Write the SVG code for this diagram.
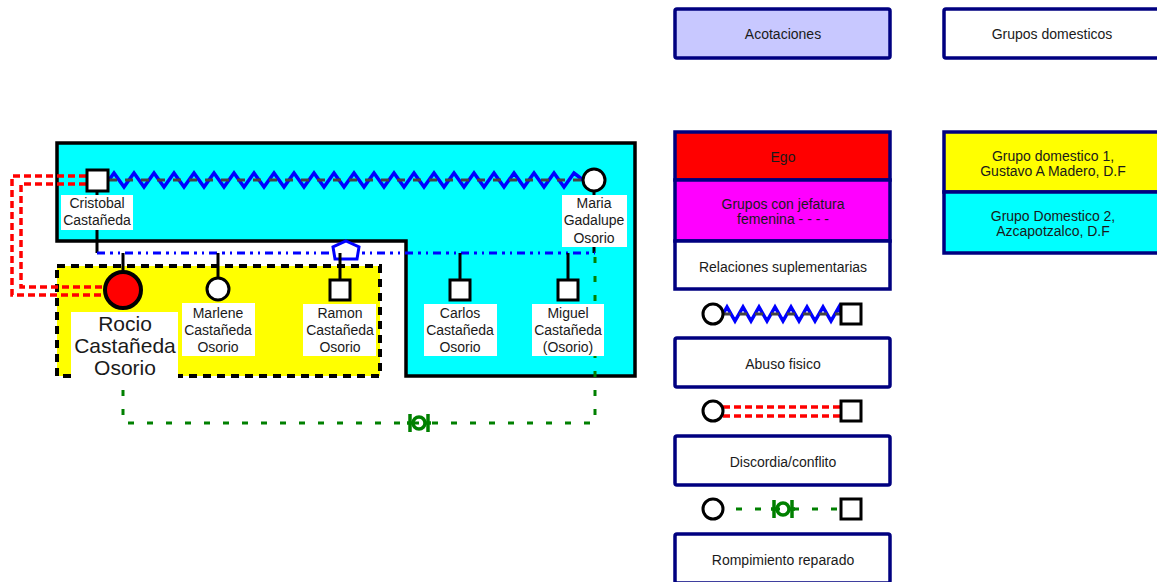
<svg xmlns="http://www.w3.org/2000/svg" width="1157" height="582" viewBox="0 0 1157 582">
<style>
text{font-family:"Liberation Sans",Arial,sans-serif;fill:#1a1a1a;text-anchor:middle}
.lbl{font-size:14px}
.big{font-size:21px}
.lbox{fill:#fff;stroke:none}
.sym{stroke:#000;stroke-width:3;fill:#fff}
.kin{stroke:#000;stroke-width:3;fill:none}
.zig{stroke:#0000ff;stroke-width:3.5;fill:none;stroke-linejoin:miter}
.zigd{stroke:#444;stroke-width:3;fill:none;stroke-dasharray:8 8}
.red{stroke:#ff0000;stroke-width:3.5;fill:none;stroke-dasharray:7 4}
.grn{stroke:#008000;stroke-width:3;fill:none;stroke-dasharray:6 13}
.grs{stroke:#008000;stroke-width:3.5;fill:none}
.leg{stroke:#000080;stroke-width:3.5}
</style>
<defs>
<g id="rep">
<circle cx="0" cy="0" r="6" class="grs"/>
<line x1="-9" y1="-9" x2="-9" y2="9" class="grs"/>
<line x1="9" y1="-9" x2="9" y2="9" class="grs"/>
<line x1="-12" y1="0" x2="-6" y2="0" class="grs"/>
<line x1="6" y1="0" x2="12" y2="0" class="grs"/>
</g>
</defs>

<g id="groups">
<polygon id="grupo2" points="57,143 635,143 635,376 406,376 406,241 57,241" fill="#00ffff" stroke="#000" stroke-width="3.5"/>
<rect id="grupo1" x="57" y="266" width="323" height="110" fill="#ffff00" stroke="#000" stroke-width="4" stroke-dasharray="8 6"/>
</g>

<g id="connectors">
<path class="red" d="M86,176 H12 V295 H106"/>
<path class="red" d="M86,184 H21 V287 H106"/>
<path class="zig" d="M109,180 l5,-7 l10,14 l10,-14 l10,14 l10,-14 l10,14 l10,-14 l10,14 l10,-14 l10,14 l10,-14 l10,14 l10,-14 l10,14 l10,-14 l10,14 l10,-14 l10,14 l10,-14 l10,14 l10,-14 l10,14 l10,-14 l10,14 l10,-14 l10,14 l10,-14 l10,14 l10,-14 l10,14 l10,-14 l10,14 l10,-14 l10,14 l10,-14 l10,14 l10,-14 l10,14 l10,-14 l10,14 l10,-14 l10,14 l10,-14 l10,14 l10,-14 l10,14 l10,-14 l9,7"/>
<line class="zigd" x1="109" y1="180" x2="583" y2="180"/>
<line class="kin" x1="97" y1="191" x2="97" y2="253"/>
<line class="kin" x1="594" y1="191" x2="594" y2="253"/>
<line x1="97" y1="253" x2="595" y2="253" stroke="#0000ff" stroke-width="3" stroke-dasharray="8 5 3 5 2 5"/>
<polygon points="346,241 359,247 357,259 335,259 333,247" fill="#fff" stroke="#0000ff" stroke-width="3"/>
<line class="kin" x1="123" y1="253" x2="123" y2="272"/>
<line class="kin" x1="218" y1="253" x2="218" y2="279"/>
<line class="kin" x1="340" y1="253" x2="340" y2="280"/>
<line class="kin" x1="460" y1="253" x2="460" y2="280"/>
<line class="kin" x1="568" y1="253" x2="568" y2="280"/>
<path class="grn" d="M595,257 V423 H123 V309"/>
<use href="#rep" x="419" y="423"/>
</g>

<g id="cristobal">
<rect class="sym" x="87" y="170" width="21" height="21"/>
<rect class="lbox" x="61" y="195" width="72" height="35"/>
<text class="lbl" x="97" y="208">Cristobal</text>
<text class="lbl" x="97" y="225">Castañeda</text>
</g>

<g id="maria">
<circle class="sym" cx="594" cy="180" r="11"/>
<rect class="lbox" x="562" y="195" width="65" height="52"/>
<text class="lbl" x="594" y="208">Maria</text>
<text class="lbl" x="594" y="225">Gadalupe</text>
<text class="lbl" x="594" y="243">Osorio</text>
</g>

<g id="rocio">
<circle cx="123" cy="290" r="18" fill="#ff0000" stroke="#000" stroke-width="4"/>
<rect class="lbox" x="71" y="312" width="107" height="67"/>
<text class="big" x="125" y="331">Rocio</text>
<text class="big" x="125" y="353">Castañeda</text>
<text class="big" x="125" y="375">Osorio</text>
</g>

<g id="marlene">
<circle class="sym" cx="218" cy="289" r="11"/>
<rect class="lbox" x="182" y="303" width="73" height="53"/>
<text class="lbl" x="218" y="318">Marlene</text>
<text class="lbl" x="218" y="335">Castañeda</text>
<text class="lbl" x="218" y="352">Osorio</text>
</g>

<g id="ramon">
<rect class="sym" x="330" y="280" width="20" height="20"/>
<rect class="lbox" x="303" y="304" width="73" height="52"/>
<text class="lbl" x="340" y="318">Ramon</text>
<text class="lbl" x="340" y="335">Castañeda</text>
<text class="lbl" x="340" y="352">Osorio</text>
</g>

<g id="carlos">
<rect class="sym" x="450" y="280" width="20" height="20"/>
<rect class="lbox" x="424" y="304" width="73" height="52"/>
<text class="lbl" x="460" y="318">Carlos</text>
<text class="lbl" x="460" y="335">Castañeda</text>
<text class="lbl" x="460" y="352">Osorio</text>
</g>

<g id="miguel">
<rect class="sym" x="558" y="280" width="20" height="20"/>
<rect class="lbox" x="532" y="304" width="72" height="52"/>
<text class="lbl" x="568" y="318">Miguel</text>
<text class="lbl" x="568" y="335">Castañeda</text>
<text class="lbl" x="568" y="352">(Osorio)</text>
</g>

<g id="legend-acotaciones">
<rect class="leg" x="675" y="9" width="215" height="49" rx="2" fill="#c8c8ff"/>
<text class="lbl" x="783" y="39">Acotaciones</text>
</g>
<g id="legend-grupos">
<rect class="leg" x="944" y="9" width="216" height="49" rx="2" fill="#fff"/>
<text class="lbl" x="1052" y="39">Grupos domesticos</text>
</g>
<g id="legend-ego">
<rect class="leg" x="675" y="132" width="215" height="48" fill="#ff0000"/>
<text class="lbl" x="783" y="162">Ego</text>
</g>
<g id="legend-jefatura">
<rect class="leg" x="675" y="180" width="215" height="61" fill="#ff00ff"/>
<text class="lbl" x="783" y="209">Grupos con jefatura</text>
<text class="lbl" x="783" y="224">femenina - - - -</text>
</g>
<g id="legend-relaciones">
<rect class="leg" x="675" y="241" width="215" height="48" fill="#fff"/>
<text class="lbl" x="783" y="272">Relaciones suplementarias</text>
</g>
<g id="legend-gd1">
<rect class="leg" x="944" y="132" width="216" height="60" fill="#ffff00"/>
<text class="lbl" x="1053" y="161">Grupo domestico 1,</text>
<text class="lbl" x="1053" y="176">Gustavo A Madero, D.F</text>
</g>
<g id="legend-gd2">
<rect class="leg" x="944" y="192" width="216" height="61" fill="#00ffff"/>
<text class="lbl" x="1053" y="221">Grupo Domestico 2,</text>
<text class="lbl" x="1053" y="236">Azcapotzalco, D.F</text>
</g>

<g id="legend-sym-abuso">
<path class="zig" d="M723,314 l4,-7 l8,14 l8,-14 l8,14 l8,-14 l8,14 l8,-14 l8,14 l8,-14 l8,14 l8,-14 l8,14 l8,-14 l8,14 l8,-14 l2,7"/>
<line class="zigd" x1="723" y1="314" x2="840" y2="314"/>
<circle class="sym" cx="713" cy="314" r="10"/>
<rect class="sym" x="841" y="304" width="20" height="20"/>
</g>
<g id="legend-abuso">
<rect class="leg" x="675" y="338" width="215" height="49" rx="2" fill="#fff"/>
<text class="lbl" x="783" y="369">Abuso fisico</text>
</g>
<g id="legend-sym-discordia">
<line class="red" x1="723" y1="407" x2="841" y2="407"/>
<line class="red" x1="723" y1="416" x2="841" y2="416"/>
<circle class="sym" cx="713" cy="411" r="10"/>
<rect class="sym" x="841" y="401" width="20" height="20"/>
</g>
<g id="legend-discordia">
<rect class="leg" x="675" y="436" width="215" height="49" rx="2" fill="#fff"/>
<text class="lbl" x="783" y="467">Discordia/conflito</text>
</g>
<g id="legend-sym-rompimiento">
<line class="grn" x1="736" y1="509" x2="841" y2="509" stroke-dasharray="7 13"/>
<use href="#rep" x="783" y="509"/>
<circle class="sym" cx="713" cy="509" r="10"/>
<rect class="sym" x="841" y="499" width="20" height="20"/>
</g>
<g id="legend-rompimiento">
<rect class="leg" x="675" y="534" width="215" height="49" rx="2" fill="#fff"/>
<text class="lbl" x="783" y="565">Rompimiento reparado</text>
</g>
</svg>
